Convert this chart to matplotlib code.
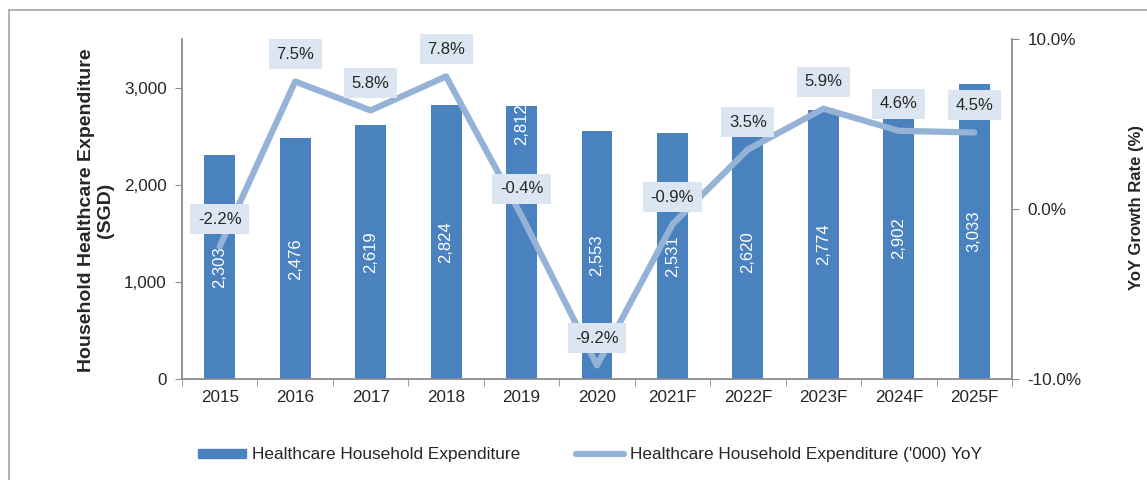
import matplotlib.pyplot as plt
import numpy as np
from matplotlib.patches import Rectangle
from matplotlib.lines import Line2D

plt.rcParams['font.family'] = ['Liberation Sans', 'DejaVu Sans']

years = ["2015", "2016", "2017", "2018", "2019", "2020",
         "2021F", "2022F", "2023F", "2024F", "2025F"]
expenditure = [2303, 2476, 2619, 2824, 2812, 2553, 2531, 2620, 2774, 2902, 3033]
yoy = [-2.2, 7.5, 5.8, 7.8, -0.4, -9.2, -0.9, 3.5, 5.9, 4.6, 4.5]

bar_col = "#4A81BF"
line_col = "#95B3D7"
box_col = "#DCE6F2"
txt_col = "#262626"
ax_col = "#8C8C8C"
fs = 12.3

fig = plt.figure(figsize=(11.47, 4.8), dpi=100)
ax = fig.add_axes([182 / 1147, 1 - 379 / 480, 830 / 1147, 340 / 480])
x = np.arange(len(years))

ax.bar(x, expenditure, width=0.41, color=bar_col, zorder=2)
ax.set_xlim(-0.5, len(years) - 0.5)
ax.set_ylim(0, 3500)
ax.set_yticks([0, 1000, 2000, 3000])
ax.set_yticklabels(["0", "1,000", "2,000", "3,000"])
ax.set_xticks(x)
ax.set_xticklabels(years)
ax.set_xticks(np.arange(-0.5, len(years)), minor=True)
ax.tick_params(axis="x", which="major", length=0, pad=8)
ax.tick_params(axis="x", which="minor", length=5, color=ax_col, direction="out")
ax.tick_params(axis="y", length=5, color=ax_col, pad=6)
ax.tick_params(labelsize=fs, labelcolor=txt_col)
for s in ["top", "right"]:
    ax.spines[s].set_visible(False)
for s in ["left", "bottom"]:
    ax.spines[s].set_color(ax_col)
    ax.spines[s].set_linewidth(1.3)

fig.text(96 / 1147, 1 - 210 / 480, "Household Healthcare Expenditure\n(SGD)",
         rotation=90, ha="center", va="center", multialignment="center",
         fontsize=14, fontweight="bold", color=txt_col, linespacing=1.1)

for i, v in enumerate(expenditure):
    yy = v / 2
    if i == 4:
        yy = v - 190
    ax.text(i, yy, f"{v:,}", rotation=90, ha="center", va="center",
            color="white", fontsize=12, zorder=3)

ax2 = ax.twinx()
ax2.plot(x, yoy, color=line_col, lw=4.5, solid_capstyle="round", zorder=4)
ax2.set_ylim(-10, 10)
ax2.set_yticks([-10, 0, 10])
ax2.set_yticklabels(["-10.0%", "0.0%", "10.0%"])
ax2.tick_params(axis="y", length=5, color=ax_col, labelsize=fs,
                labelcolor=txt_col, pad=6)
for s in ["top", "left", "bottom"]:
    ax2.spines[s].set_visible(False)
ax2.spines["right"].set_color(ax_col)
ax2.spines["right"].set_linewidth(1.3)

for i, v in enumerate(yoy):
    ax2.annotate(f"{v:.1f}%", (i, v), xytext=(0, 19.5), textcoords="offset points",
                 ha="center", va="center", fontsize=12, color=txt_col, zorder=5,
                 bbox=dict(boxstyle="square,pad=0.45", fc=box_col, ec="none"))

fig.text(1137 / 1147, 1 - 208 / 480, "YoY Growth Rate (%)", rotation=90,
         ha="center", va="center", fontsize=12, fontweight="bold", color=txt_col)

# outer frame
fig.patches.append(Rectangle((9 / 1147, -0.1), 1.2, 1 - 10 / 480 + 0.1,
                             transform=fig.transFigure, fill=False,
                             ec="#A6A6A6", lw=1.2))

handles = [Rectangle((0, 0), 1, 1, color=bar_col),
           Line2D([0], [0], color=line_col, lw=4.5, solid_capstyle="round")]
fig.legend(handles, ["Healthcare Household Expenditure",
                     "Healthcare Household Expenditure ('000) YoY"],
           loc="center", bbox_to_anchor=(590 / 1147, 1 - 455 / 480), ncol=2,
           frameon=False, fontsize=12.4, handlelength=2.8, handleheight=0.45,
           columnspacing=3.2, handletextpad=0.35, labelcolor=txt_col)

fig.savefig("out.png", dpi=100)
